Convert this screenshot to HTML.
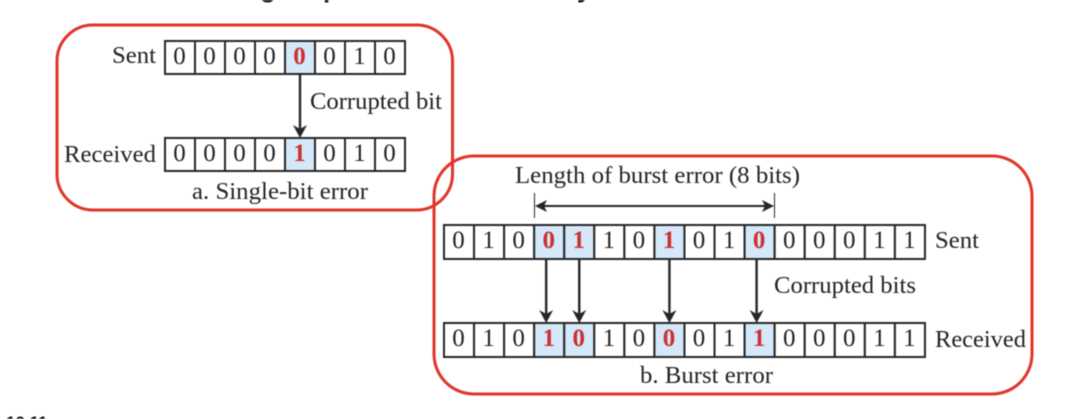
<!DOCTYPE html>
<html lang="en">
<head>
<meta charset="utf-8">
<title>Single-bit and burst errors</title>
<style>
html,body{margin:0;padding:0;background:#fff;width:1066px;height:419px;overflow:hidden}
svg{display:block;filter:blur(0.4px)}
text{font-family:"Liberation Serif",serif;fill:#222}
.lbl{font-size:24.5px}
.bit{font-size:25px;text-anchor:middle}
.err{font-weight:bold;fill:#cb3030}
.frag{font-family:"Liberation Sans",sans-serif;font-weight:bold;fill:#111}
</style>
</head>
<body>
<svg id="fig" xmlns="http://www.w3.org/2000/svg" width="1066" height="419" viewBox="0 0 1066 419">
  <text class="frag" x="260" y="-3" font-size="26">g</text>
  <text class="frag" x="323" y="-3" font-size="26">p</text>
  <text class="frag" x="577" y="-3" font-size="26">y</text>
  <text class="frag" x="6" y="428" font-size="17">10.11</text>

  <rect x="57" y="25" width="395.5" height="185" rx="36" fill="none" stroke="#e03529" stroke-width="3"/>
  <g id="layer"></g>
  <rect x="434" y="156" width="598" height="238" rx="40" fill="none" stroke="#e03529" stroke-width="3"/>

  <text class="lbl" x="112" y="63" textLength="44" lengthAdjust="spacingAndGlyphs">Sent</text>
  <text class="lbl" x="64" y="162" textLength="92" lengthAdjust="spacingAndGlyphs">Received</text>
  <text class="lbl" x="310" y="109" textLength="132" lengthAdjust="spacingAndGlyphs">Corrupted bit</text>
  <text class="lbl" x="192" y="199" textLength="176" lengthAdjust="spacingAndGlyphs">a. Single-bit error</text>
  <text class="lbl" x="515" y="183" textLength="285" lengthAdjust="spacingAndGlyphs">Length of burst error (8 bits)</text>
  <text class="lbl" x="935" y="248" textLength="44" lengthAdjust="spacingAndGlyphs">Sent</text>
  <text class="lbl" x="774" y="293" textLength="142" lengthAdjust="spacingAndGlyphs">Corrupted bits</text>
  <text class="lbl" x="935" y="347" textLength="91" lengthAdjust="spacingAndGlyphs">Received</text>
  <text class="lbl" x="640" y="383" textLength="133" lengthAdjust="spacingAndGlyphs">b. Burst error</text>
</svg>
<script>
var singleSent = [0,0,0,0,0,0,1,0];
var singleReceived = [0,0,0,0,1,0,1,0];
var burstSent = [0,1,0,0,1,1,0,1,0,1,0,0,0,0,1,1];
var burstReceived = [0,1,0,1,0,1,0,0,0,1,1,0,0,0,1,1];

var NS = 'http://www.w3.org/2000/svg';
var layer = document.getElementById('layer');

function make(tag, attrs, parent) {
  var el = document.createElementNS(NS, tag);
  for (var k in attrs) el.setAttribute(k, attrs[k]);
  (parent || layer).appendChild(el);
  return el;
}

function drawRow(bits, compare, x0, y, w, h, rowName) {
  var g = make('g', {});
  
  
  bits.forEach(function (b, i) {
    var bad = b !== compare[i];
    var rect = make('rect', {x: x0 + i * w, y: y, width: w, height: h, fill: bad ? '#d4e8f9' : '#fff', stroke: '#262626', 'stroke-width': 2}, g);
    
    
    var t = make('text', {x: x0 + i * w + w / 2 - 0.5, y: y + 23, 'class': bad ? 'bit err' : 'bit'}, g);
    
    
    t.textContent = String(b);
  });
}

function drawArrow(x, y1, y2) {
  var g = make('g', {});
  
  
  make('line', {x1: x, y1: y1, x2: x, y2: y2 - 8, stroke: '#262626', 'stroke-width': 2.4}, g);
  make('path', {d: 'M' + (x - 7) + ' ' + (y2 - 13) + 'L' + x + ' ' + (y2 - 9) + 'L' + (x + 7) + ' ' + (y2 - 13) + 'L' + x + ' ' + y2 + 'Z', fill: '#262626'}, g);
}

drawRow(singleSent, singleReceived, 165, 41, 30, 33, 'single-sent-row');
drawRow(singleReceived, singleSent, 165, 138, 30, 33, 'single-received-row');
singleSent.forEach(function (b, i) {
  if (b !== singleReceived[i]) drawArrow(165 + i * 30 + 15, 75, 138);
});

drawRow(burstSent, burstReceived, 444, 225, 30.06, 34, 'burst-sent-row');
drawRow(burstReceived, burstSent, 444, 323, 30.06, 34, 'burst-received-row');
burstSent.forEach(function (b, i) {
  if (b !== burstReceived[i]) {
    var nudge = i === 3 || i === 10 ? -3 : 0;
    drawArrow(444 + i * 30.06 + 15 + nudge, 260, 323);
  }
});

var dim = make('g', {});


make('line', {x1: 534.5, y1: 193, x2: 534.5, y2: 218, stroke: '#262626', 'stroke-width': 1}, dim);
make('line', {x1: 774.5, y1: 193, x2: 774.5, y2: 218, stroke: '#262626', 'stroke-width': 1}, dim);
make('line', {x1: 540, y1: 206, x2: 768, y2: 206, stroke: '#262626', 'stroke-width': 2}, dim);
make('path', {d: 'M535 206L547 200L544 206L547 212Z', fill: '#262626'}, dim);
make('path', {d: 'M774 206L762 200L765 206L762 212Z', fill: '#262626'}, dim);
</script>
</body>
</html>
